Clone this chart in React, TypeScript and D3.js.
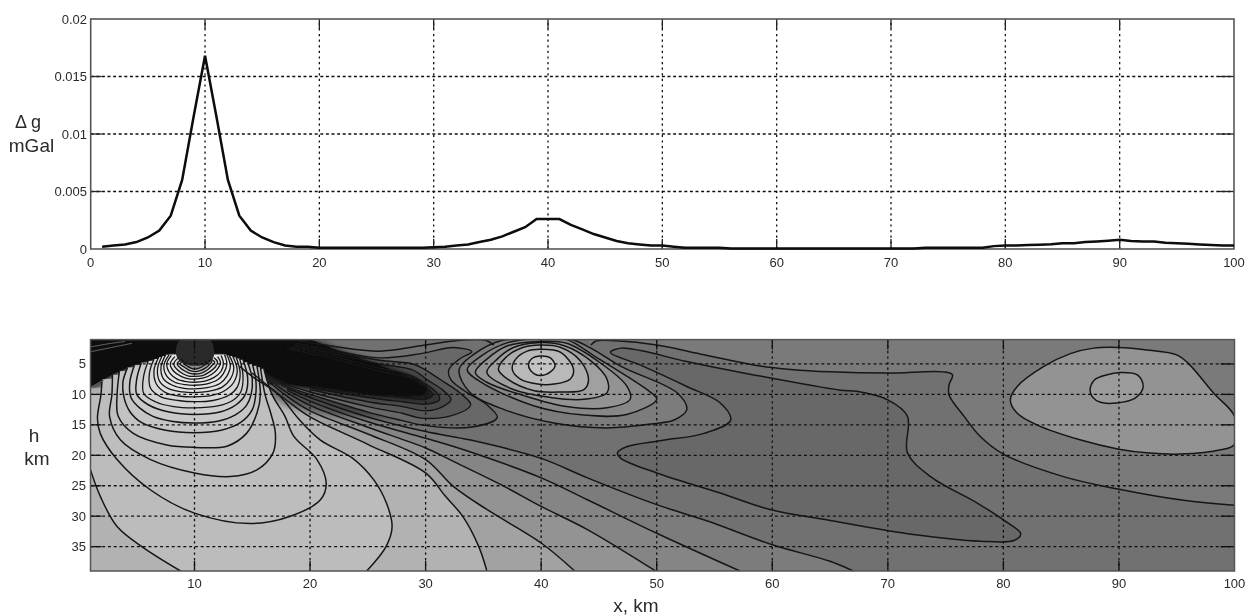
import React from "react";
import * as d3 from "d3";

type P = [number, number];

// ---------- top panel ----------
const gravityX = d3.range(1, 101);
const gravityY = [
  .0002,.0003,.0004,.0006,.0010,.0016,.0029,.0060,.0115,.0168,.0115,.0060,.0029,.0016,.0010,.0006,.0003,.0002,.0002,.0001,
  .0001,.0001,.0001,.0001,.0001,.0001,.0001,.0001,.0001,.00015,.0002,.0003,.0004,.0006,.0008,.0011,.0015,.0019,.0026,.0026,
  .0026,.0021,.0017,.0013,.0010,.0007,.0005,.0004,.0003,.0003,.0002,.0001,.0001,.0001,.0001,.00005,.00005,.00005,.00005,.00005,
  .00005,.00005,.00005,.00005,.00005,.00005,.00005,.00005,.00005,.00005,.00005,.00005,.0001,.0001,.0001,.0001,.0001,.0001,.00025,.0003,
  .0003,.00035,.00038,.00042,.0005,.0005,.0006,.00066,.00072,.0008,.0007,.00066,.00066,.00055,.0005,.00045,.0004,.00035,.0003,.0003,
];
const topXTicks = [0, 10, 20, 30, 40, 50, 60, 70, 80, 90, 100];
const topYTicks = [0, 0.005, 0.01, 0.015, 0.02];
const topYLabels = ["0", "0.005", "0.01", "0.015", "0.02"];

// ---------- bottom panel ----------
const botXTicks = [10, 20, 30, 40, 50, 60, 70, 80, 90, 100];
const botYTicks = [5, 10, 15, 20, 25, 30, 35];

// right side
const r1Line: P[] = [[44.3,1.9],[44.8,1.2],[46.5,1.2],[50,1.9],[54.1,3.5],[58.5,5.2],[61.6,5.9],[65,6.3],[70,6.5],[74.8,6.3],[75.6,6.8],[75.3,8.4],[75.3,10.1],[76.6,13.6],[78,16.9],[80,19.8],[85.2,23.5],[89.8,25.5],[95.6,27.4],[100,28.2]];
const e1Line: P[] = [[80.6,10.9],[81.2,8.7],[83.5,5.4],[85.8,3.3],[87.8,2.4],[90,2.3],[92.4,2.7],[95,3.5],[96,4.9],[98.2,9.8],[100,13.6],[100,18.2],[98.8,19.1],[95.3,19.8],[92.4,19.6],[90,19],[86.7,17.5],[82.9,15],[81.2,13.1]];
const e2Line: P[] = [[87.5,9.3],[87.9,7.6],[88.9,6.8],[90.1,6.4],[91.6,6.8],[92.1,8.7],[91.4,10.6],[89.8,11.4],[88.4,11.3],[87.7,10.4]];
const r2Line: P[] = [[46,3.1],[46.9,2.4],[48.6,2.8],[52.6,4.6],[58.4,6.8],[65.9,9.3],[67.3,9.5],[70,10.9],[71.7,13.6],[71.7,19.6],[73.7,23.5],[77.7,27.8],[80,30.6],[81.5,32.9],[80.9,34],[78,34.1],[72.2,33],[65,30.7],[59.8,28.9],[55.5,26.2],[50,22.9],[46.9,20.5],[46.6,19.6],[47.4,18.6],[50.3,17.6],[54.1,16.4],[56.4,14.2],[55.5,11.4],[52.6,8.7],[48.6,5.2]];

// lines running from the bottom edge up to the left maximum
const b6Line: P[] = [[67,39],[65,37.4],[60,34.7],[54.4,30.8],[50,28.1],[44,23.7],[40,20.5],[33.9,17.5],[30,16.1],[25,13.7],[20,10.5],[18,9]];
const b5Line: P[] = [[57.2,39],[50,32.8],[44,27.3],[40,23.7],[33.3,19.1],[30,17.2],[25,14.5],[20,11.1],[18,9.3]];
const b4Line: P[] = [[49.9,39],[44,32.2],[40,28.4],[36.8,25.1],[32.4,21],[30,18.8],[25,15.4],[20,11.8],[18,9.7],[17,8.4]];
const b3Line: P[] = [[42.9,39],[40,34.4],[35.3,28.9],[32.4,25.1],[30,20.7],[25,16.5],[20,12.7],[18,10.3],[16.5,8]];
const b2Line: P[] = [[35.3,39],[34.6,35],[33.2,30],[31.7,26.7],[30,22.9],[25,18.2],[20,13.7],[18,11],[16.3,8.5],[15,6.5]];
const aLeft: P[] = [[1,22.4],[1.84,26.7],[3.3,31.7],[5.6,35.2],[8.8,39]];
const aRight: P[] = [[24.9,39],[26.6,34.9],[27.1,31.7],[26.6,27.8],[25.5,24],[23.7,20.5],[20.9,17.5],[19,14],[17.3,10.1],[15.1,7.2],[13.9,5.4]];

// dark tongue
const t1Line: P[] = [[18.9,1.2],[21.7,2],[26,2.9],[29.6,2],[33,1.1],[35.2,1.1],[35.9,1.9]];
const t2Line: P[] = [[17.5,8.5],[20,10],[25,12.9],[28,14.3],[29.6,15],[33.9,15.4],[36.2,13.8],[35.3,11.7],[33.6,9.7],[32.2,7.6],[32,6],[33,4.1],[34,3],[32.4,2.3],[29.6,3.3],[26,4],[21.7,2.6],[18.6,1.5]];
const t3Line: P[] = [[17.5,8.2],[20,9.6],[25,12],[28,13.1],[29.6,13.9],[32.4,13.4],[33.9,11.7],[33,9.8],[31.3,7.6],[30,6],[28.9,5],[26,4.4],[21.7,2.9],[18.6,1.8]];
const t4Line: P[] = [[20,9.2],[25,11.2],[28,12],[30,12.7],[31.5,12],[32.2,10.8],[31.5,9.3],[30.3,7.8],[28.9,6],[26,5],[21.7,3.2],[18.6,2.1]];
const t5Line: P[] = [[20,8.9],[25,10.5],[28,11.2],[30,11.6],[31.2,10.9],[31,9.8],[30,8.3],[28.6,6.8],[26,5.7],[21.7,3.6],[18.3,2.3]];
const t6Line: P[] = [[20,8.6],[25,10],[28,10.5],[30,10.8],[30.6,10],[30,8.8],[28.6,7.3],[26,6.2],[21.7,4],[18,2.5]];
const blackZone: P[] = [[1,1],[20,1],[23,3.2],[26.5,5.6],[29.2,7.6],[30.2,9],[29.8,10],[28,10.2],[25,9.9],[20,8.8],[18,8.1],[16,6.2],[14,4.3],[12.5,3.3],[8,3.3],[7,4],[5,5],[3,6.6],[1,8.8]];
const flankHaze: P[] = [[16,8],[22,9],[30,11],[30,14],[22,13.5],[18,12],[16,10]];
const centreCap: P[] = [[8.8,1],[11.3,1],[11.7,3.4],[11.3,4.8],[10.1,5.3],[8.9,4.8],[8.4,3.4]];

// peak near x = 40, outer to inner
const peak1: P[] = [[32.9,5.9],[34.2,3.4],[36.5,1.2],[40,0.8],[42.5,0.9],[44.3,2.4],[46.9,5.4],[51.8,9.8],[52.6,12.5],[51.5,14.2],[49.7,14.8],[45.7,15.5],[41.1,14.7],[36.8,12.5],[33.8,9.6]];
const peak2: P[] = [[33.6,5.9],[34.8,3.7],[37.1,1.5],[39.9,0.8],[42.2,1],[44.6,3.7],[49.5,9.7],[50,10.8],[47.4,13.3],[43.7,13.4],[39.4,11.9],[34.8,8]];
const peak3: P[] = [[34.3,6.4],[35.3,4.2],[37.1,2],[39.9,1.3],[42.2,1.6],[45.1,4.8],[47.4,8.6],[47.7,10.8],[45.7,12.2],[42.2,12],[38.5,10.2],[35.3,8]];
const peak4: P[] = [[35.3,6.4],[36.2,4.2],[37.6,2.3],[39.7,1.5],[42,2],[44.3,4.5],[45.7,7.5],[45.7,9.7],[43.7,10.8],[40.8,10.5],[37.6,9.2]];
const peak5: P[] = [[36.3,5.9],[36.9,4],[38.4,2.3],[39.9,1.9],[41.7,2.3],[43.4,4.5],[44.1,7.5],[43.7,9.2],[41.7,9.6],[39.4,9.4],[37.1,7.5]];
const peak6: P[] = [[37.5,5.9],[37.8,4.2],[38.8,2.9],[39.9,2.6],[41.7,3.1],[42.8,5.9],[42.5,7.5],[41.1,8.3],[39.7,8.3],[38.2,7.5]];
const peak7: P[] = [[38.9,5.05],[39.2,4.1],[39.9,3.7],[40.8,4],[41.2,5.3],[40.8,6.3],[39.9,6.9],[39.1,6.1]];
const peaks = [peak1, peak2, peak3, peak4, peak5, peak6, peak7];
const peakFills = ["#7c7c7c", "#878787", "#939393", "#a0a0a0", "#adadad", "#b9b9b9", "#c4c4c4"];

// nested contours around the maximum near x = 10, outer to inner
const arcB: P[] = [[2,7.5],[1.9,10.1],[1.6,13.9],[1.84,16.4],[3.3,20.7],[6.2,25.7],[10,29.5],[14.8,31.2],[18.3,30],[20.9,27.3],[21.4,24.6],[20.6,20.7],[18.6,16.9],[17.8,13.5],[16.7,10],[16,5.8]];
const arcC: P[] = [[2.9,6.8],[2.85,10.1],[2.65,13.6],[3.6,17.5],[6.2,20.7],[10,22.9],[13.1,23.5],[15.4,22.4],[16.8,19.6],[17,16.4],[16.6,13.1],[16.1,10],[15.7,5.5]];
const arcD: P[] = [[3.5,6.2],[3.3,10.1],[3.4,13.6],[4.7,16.4],[7.6,18.3],[10,18.7],[12.8,18.5],[14.5,16.4],[15.4,13.1],[15.7,10],[15.4,5.3]];
const arcE: P[] = [[4.2,5.6],[3.8,8],[3.9,10.5],[4.4,12.8],[5.4,14.6],[7.5,15.9],[10,16.3],[12.3,15.9],[14,14.6],[15,12.5],[15.3,10],[15.3,7.5],[15,5]];
const arcF: P[] = [[4.8,5.2],[4.4,8],[4.5,10.5],[5.3,12.3],[6.4,13.6],[8,14.4],[10,14.7],[12,14.4],[13.5,13.4],[14.5,11.8],[14.9,10],[15,7.5],[14.6,4.7]];
const arcG: P[] = [[5.4,4.8],[5,7.5],[5,10],[6,11.7],[7.8,12.9],[10,13.3],[12.2,12.9],[13.6,11.7],[14.4,10],[14.6,7.3],[14.2,4.3]];
const arcH: P[] = [[6,4.5],[5.6,7],[5.6,9.8],[6.6,11.2],[8.2,12],[10,12.2],[12,11.9],[13.3,11],[14,9.6],[14.2,7],[13.9,4.1]];
const arcI: P[] = [[6.5,4.2],[6.1,6.5],[6.2,9],[7.1,10.4],[8.6,11],[10,11.2],[11.6,11],[13,10.1],[13.7,8.8],[13.95,6.5],[13.6,3.9]];
const arcJ: P[] = [[6.9,3.9],[6.5,6],[6.7,8.3],[7.5,9.7],[8.8,10.3],[10,10.4],[11.4,10.2],[12.6,9.4],[13.4,8],[13.7,6],[13.3,3.7]];
const arcK: P[] = [[7.2,3.7],[6.8,5.8],[7,7.9],[7.8,9.1],[9,9.6],[10,9.7],[11.2,9.5],[12.4,8.8],[13.1,7.5],[13.4,5.6],[13,3.6]];
const arcL: P[] = [[7.5,3.5],[7.1,5.5],[7.3,7.4],[8.1,8.5],[9.1,9],[10,9.1],[11.1,8.9],[12.2,8.2],[12.8,7],[13.1,5.3],[12.8,3.5]];
const arcM: P[] = [[7.8,3.5],[7.35,5.2],[7.6,7],[8.3,8],[9.2,8.4],[10,8.5],[11,8.3],[12,7.6],[12.5,6.6],[12.8,5],[12.6,3.5]];
const arcN: P[] = [[8,3.6],[7.6,5],[7.9,6.6],[8.5,7.5],[9.3,7.9],[10,8],[10.9,7.8],[11.7,7.2],[12.3,6.2],[12.5,4.9],[12.3,3.6]];
const arcO: P[] = [[8.3,3.8],[7.9,5],[8.2,6.2],[8.8,7],[9.4,7.4],[10,7.5],[10.8,7.3],[11.5,6.7],[12,5.8],[12.25,4.8],[12,3.8]];
const arcP: P[] = [[8.6,4],[8.2,5],[8.5,5.9],[9,6.6],[9.5,7],[10,7.05],[10.7,6.9],[11.3,6.3],[11.8,5.5],[12,4.7],[11.7,4]];
const arcQ: P[] = [[8.9,4.2],[8.5,5],[8.8,5.7],[9.2,6.2],[9.6,6.55],[10,6.65],[10.6,6.5],[11.1,6],[11.5,5.3],[11.75,4.7],[11.4,4.2]];
const arcR: P[] = [[9.1,4.4],[8.75,5],[9.1,5.5],[9.5,6],[10,6.25],[10.5,6.1],[11,5.6],[11.3,5.1],[11.5,4.6],[11.2,4.4]];
const arcS: P[] = [[9.4,4.6],[9.1,5],[9.4,5.4],[9.7,5.7],[10,5.85],[10.4,5.7],[10.8,5.3],[11.1,4.8],[10.9,4.6]];
const arcs = [arcB, arcC, arcD, arcE, arcF, arcG, arcH, arcI, arcJ, arcK, arcL, arcM, arcN, arcO, arcP, arcQ, arcR, arcS];
const arcFills = ["#bdbdbd","#bfbfbf","#c2c2c2","#c5c5c5","#c9c9c9","#cecece","#d3d3d3","#d8d8d8","#dddddd","#e1e1e1","#e4e4e4","#e6e6e6","#e6e6e6","#e2e2e2","#dadada","#cccccc","#b0b0b0","#888888"];

const streak1: P[] = [[1,2.2],[2.5,1.7],[4,1.3]];
const streak2: P[] = [[1,3],[2.8,2.3],[4.6,1.6]];
const leftLine1: P[] = [[1,8.9],[1.6,8.2],[2.2,7.6]];

const xT = d3.scaleLinear().domain([0, 100]).range([90.7, 1234]);
const yT = d3.scaleLinear().domain([0, 0.02]).range([249, 19]);
const xB = d3.scaleLinear().domain([1, 100]).range([90.5, 1234.5]);
const yB = d3.scaleLinear().domain([1, 39]).range([339.6, 571]);

const curve = d3.line<P>().x(d => xB(d[0])).y(d => yB(d[1])).curve(d3.curveCatmullRom.alpha(0.5));
const closed = d3.line<P>().x(d => xB(d[0])).y(d => yB(d[1])).curve(d3.curveCatmullRomClosed.alpha(0.5));
const poly = d3.line<P>().x(d => xB(d[0])).y(d => yB(d[1]));
const grav = d3.line<number>().x((_, i) => xT(gravityX[i])).y(d => yT(d));

const smoothWith = (pts: P[], corners: P[]) => curve(pts)! + corners.map(c => `L${xB(c[0])},${yB(c[1])}`).join("") + "Z";

const LINE = "#161616";
const TXT = "#2b2b2b";
const FRAME = "#555";

const band = (pts: P[], fill: string) => (
  <path d={smoothWith(pts, [[1, 9], [1, 39]])} fill={fill} />
);
const tongue = (pts: P[], fill: string) => (
  <path d={smoothWith(pts, [[14, 1], [14, 8]])} fill={fill} />
);
const stroke = (pts: P[], w = 1.5, c = LINE) => (
  <path d={curve(pts)!} fill="none" stroke={c} strokeWidth={w} />
);

export default function App() {
  return (
    <svg width={1251} height={616} style={{ position: "absolute", left: 0, top: 0, background: "#fff" }} fontFamily="'Liberation Sans', Arial, sans-serif">
      <defs>
        <clipPath id="frameB"><rect x={xB(1)} y={yB(1)} width={xB(100) - xB(1)} height={yB(39) - yB(1)} /></clipPath>
        <filter id="soft" x="-5%" y="-5%" width="110%" height="110%"><feGaussianBlur stdDeviation="0.5" /></filter>
        <filter id="softText" x="-5%" y="-5%" width="110%" height="110%"><feGaussianBlur stdDeviation="0.3" /></filter>
        <filter id="haze" x="-20%" y="-40%" width="140%" height="180%"><feGaussianBlur stdDeviation="3" /></filter>
      </defs>

      {/* top panel */}
      <g filter="url(#soft)">
        <rect x={xT(0)} y={yT(0.02)} width={xT(100) - xT(0)} height={yT(0) - yT(0.02)} fill="#fff" />
        {topXTicks.slice(1, -1).map(t => (
          <g key={t}>
            <line x1={xT(t)} x2={xT(t)} y1={yT(0)} y2={yT(0.02)} stroke="#111" strokeWidth={1.3} strokeDasharray="2.2 3.4" />
            <line x1={xT(t)} x2={xT(t)} y1={yT(0)} y2={yT(0) - 10} stroke="#222" strokeWidth={1.3} />
            <line x1={xT(t)} x2={xT(t)} y1={yT(0.02)} y2={yT(0.02) + 10} stroke="#222" strokeWidth={1.3} />
          </g>
        ))}
        {topYTicks.slice(1, -1).map(t => (
          <g key={t}>
            <line x1={xT(0)} x2={xT(100)} y1={yT(t)} y2={yT(t)} stroke="#111" strokeWidth={1.3} strokeDasharray="3 2.6" />
            <line x1={xT(0)} x2={xT(0) + 11} y1={yT(t)} y2={yT(t)} stroke="#222" strokeWidth={1.3} />
            <line x1={xT(100) - 15} x2={xT(100)} y1={yT(t)} y2={yT(t)} stroke="#222" strokeWidth={1.3} />
          </g>
        ))}
        <rect x={xT(0)} y={yT(0.02)} width={xT(100) - xT(0)} height={yT(0) - yT(0.02)} fill="none" stroke={FRAME} strokeWidth={1.6} />
        <path d={grav(gravityY)!} fill="none" stroke="#0a0a0a" strokeWidth={2.5} />
      </g>

      {/* bottom panel */}
      <g filter="url(#soft)">
        <g clipPath="url(#frameB)">
          <rect x={xB(1)} y={yB(1)} width={xB(100) - xB(1)} height={yB(39) - yB(1)} fill="#717171" />
          <path d={smoothWith(r1Line, [[100, 1], [44, 1]])} fill="#7a7a7a" />
          <path d={closed(e1Line)!} fill="#939393" />
          <path d={closed(e2Line)!} fill="#9b9b9b" />
          <path d={closed(r2Line)!} fill="#686868" />
          {band(b6Line, "#7b7b7b")}
          {band(b5Line, "#858585")}
          {band(b4Line, "#939393")}
          {band(b3Line, "#a2a2a2")}
          {band(b2Line, "#b2b2b2")}
          <path d={curve(aLeft)! + "L" + xB(24.9) + "," + yB(39) + curve(aRight)!.replace(/^M/, "L") + `L${xB(1)},${yB(10)}Z`} fill="#bcbcbc" />
          <path d={poly(flankHaze)! + "Z"} fill="#000" opacity={0.4} filter="url(#haze)" />
          {tongue(t2Line, "#676767")}
          {tongue(t3Line, "#595959")}
          {tongue(t4Line, "#484848")}
          {tongue(t5Line, "#343434")}
          {tongue(t6Line, "#232323")}
          <path d={poly(blackZone)! + "Z"} fill="#060606" filter="url(#haze)" />
          <path d={poly(blackZone)! + "Z"} fill="#0a0a0a" filter="url(#soft)" />

          {arcs.map((a, i) => <path key={i} d={curve(a)! + "Z"} fill={arcFills[i]} />)}
          <path d={closed(centreCap)!} fill="#2c2c2c" filter="url(#soft)" />
          {peaks.map((p, i) => <path key={i} d={closed(p)!} fill={peakFills[i]} />)}

          {stroke(r1Line)}
          {stroke(t1Line)}
          <path d={closed(e1Line)!} fill="none" stroke={LINE} strokeWidth={1.5} />
          <path d={closed(e2Line)!} fill="none" stroke={LINE} strokeWidth={1.5} />
          <path d={closed(r2Line)!} fill="none" stroke={LINE} strokeWidth={1.5} />
          {[b6Line, b5Line, b4Line, b3Line, b2Line, aLeft, aRight].map((l, i) => <g key={i}>{stroke(l)}</g>)}
          {[t2Line, t3Line, t4Line, t5Line, t6Line].map((l, i) => <g key={i}>{stroke(l, 1.4)}</g>)}
          {arcs.map((a, i) => <path key={i} d={curve(a)!} fill="none" stroke={LINE} strokeWidth={i < 6 ? 1.5 : 1.3} />)}
          {peaks.map((p, i) => <path key={i} d={closed(p)!} fill="none" stroke={LINE} strokeWidth={1.5} />)}
          {[streak1, streak2, leftLine1].map((l, i) => <g key={i}>{stroke(l, 1, "#666")}</g>)}
        </g>
        {botXTicks.slice(0, -1).map(t => (
          <g key={t}>
            <line x1={xB(t)} x2={xB(t)} y1={yB(1)} y2={yB(39)} stroke="#111" strokeWidth={1.3} strokeDasharray="2.4 3.2" />
            <line x1={xB(t)} x2={xB(t)} y1={yB(39)} y2={yB(39) - 10} stroke="#111" strokeWidth={1.3} />
            <line x1={xB(t)} x2={xB(t)} y1={yB(1)} y2={yB(1) + 10} stroke="#111" strokeWidth={1.3} />
          </g>
        ))}
        {botYTicks.map(t => (
          <g key={t}>
            <line x1={xB(1)} x2={xB(100)} y1={yB(t)} y2={yB(t)} stroke="#111" strokeWidth={1.3} strokeDasharray="3 2.8" />
            <line x1={xB(1)} x2={xB(1) + 11} y1={yB(t)} y2={yB(t)} stroke="#111" strokeWidth={1.3} />
            <line x1={xB(100) - 14} x2={xB(100)} y1={yB(t)} y2={yB(t)} stroke="#111" strokeWidth={1.3} />
          </g>
        ))}
        <rect x={xB(1)} y={yB(1)} width={xB(100) - xB(1)} height={yB(39) - yB(1)} fill="none" stroke={FRAME} strokeWidth={1.5} />
      </g>

      {/* text */}
      <g fill={TXT} fontSize={13} filter="url(#softText)">
        {topXTicks.map(t => <text key={t} x={xT(t)} y={267} textAnchor="middle">{t}</text>)}
        {topYTicks.map((t, i) => <text key={t} x={87} y={yT(t) + 4.5} textAnchor="end">{topYLabels[i]}</text>)}
        {botXTicks.map(t => <text key={t} x={xB(t)} y={588} textAnchor="middle">{t}</text>)}
        {botYTicks.map(t => <text key={t} x={86} y={yB(t) + 4.5} textAnchor="end">{t}</text>)}
        <text x={28} y={128} fontSize={18} textAnchor="middle">Δ g</text>
        <text x={31.5} y={151.5} fontSize={19} textAnchor="middle">mGal</text>
        <text x={34} y={441.5} fontSize={19} textAnchor="middle">h</text>
        <text x={37} y={465} fontSize={19} textAnchor="middle">km</text>
        <text x={636} y={612} fontSize={19} textAnchor="middle">x, km</text>
      </g>
    </svg>
  );
}
